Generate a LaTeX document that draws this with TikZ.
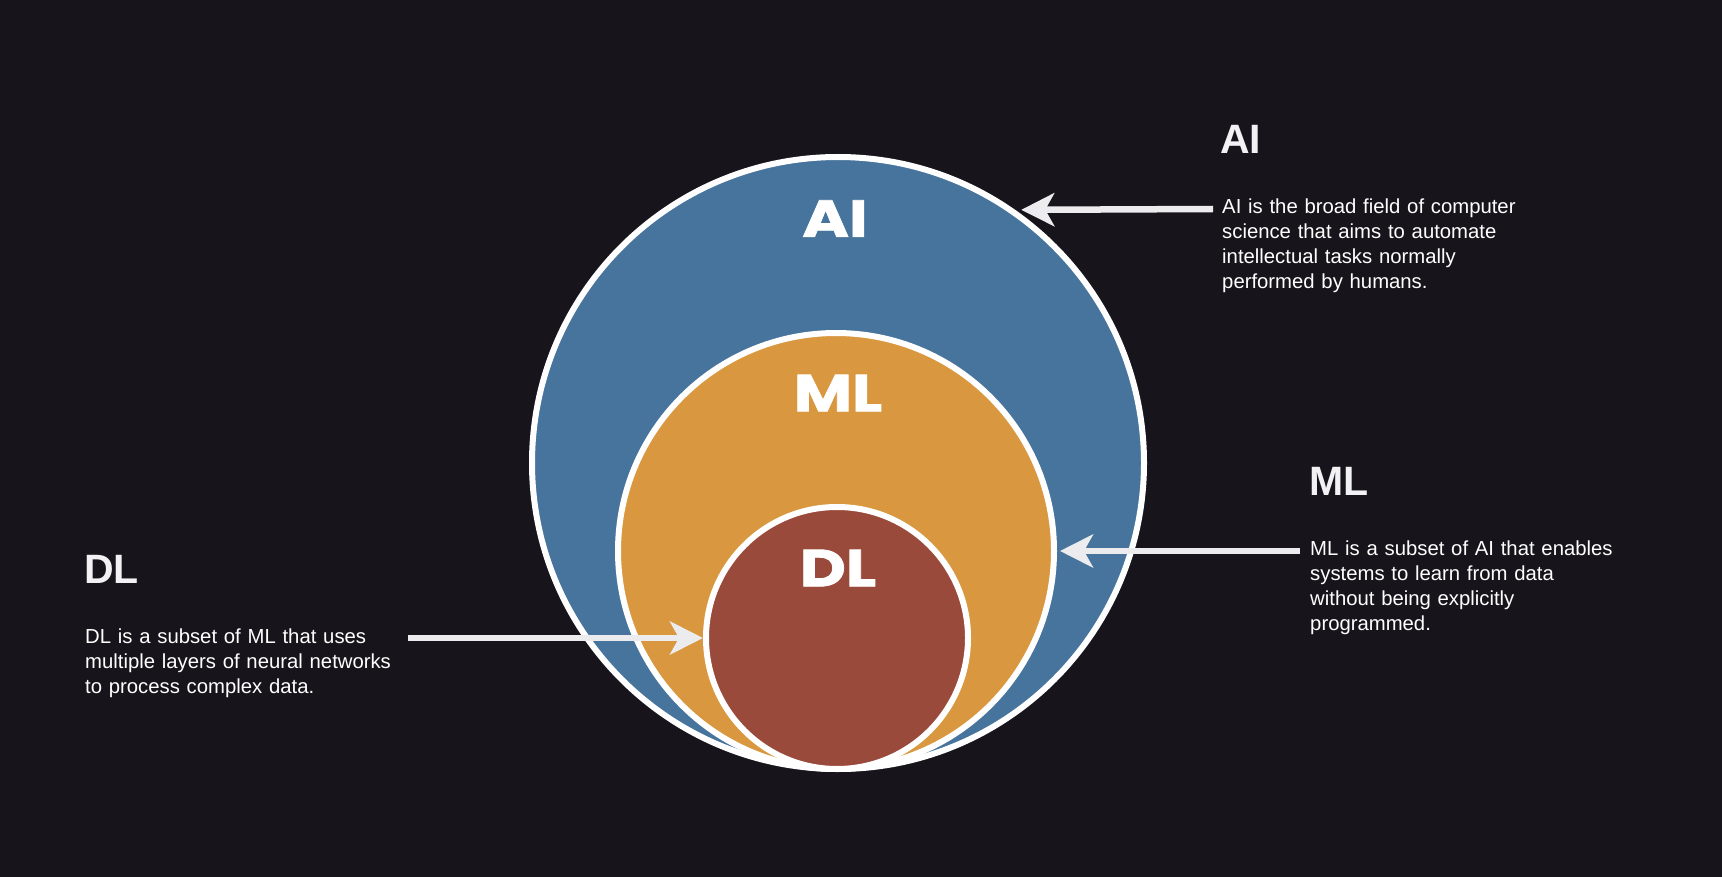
\documentclass[tikz,border=0pt]{standalone}
\usepackage{fontspec}
\setmainfont{Liberation Sans}
\newfontfamily\circfont{Poppins}[BoldFeatures={FakeBold=1.5,FakeStretch=1.22}]
\usetikzlibrary{arrows.meta}
\definecolor{bg}{RGB}{23,21,27}
\definecolor{aiblue}{RGB}{70,116,156}
\definecolor{mlorange}{RGB}{217,152,63}
\definecolor{dlred}{RGB}{154,74,58}
\definecolor{arrowgray}{RGB}{236,236,238}
\definecolor{headgray}{RGB}{242,242,244}
\begin{document}
\begin{tikzpicture}[x=1pt,y=-1pt,
  zone/.style={circle,draw=white,line width=6pt,inner sep=0pt},
  zonelabel/.style={font=\circfont\bfseries\fontsize{52}{52}\selectfont,text=white,inner sep=0pt},
  head/.style={font=\bfseries\fontsize{41}{41}\selectfont,text=headgray,anchor=base west,inner sep=0pt},
  body/.style={font=\fontsize{20.3}{25}\selectfont,text=white,anchor=base west,inner sep=0pt,align=left,text width=360pt},
  pointer/.style={draw=arrowgray,line width=6.5pt,-{Stealth[length=33pt,width=33pt,inset=9pt,color=arrowgray]}}]
\fill[bg] (0,0) rectangle (1722,877);
\useasboundingbox (0,0) rectangle (1722,877);

\node[zone,fill=aiblue,minimum size=612pt] (ai) at (838,463) {};
\node[zone,fill=mlorange,minimum size=436pt] (ml) at (836,551) {};
\node[zone,fill=dlred,minimum size=262pt] (dl) at (837,638) {};

\node[zonelabel] (ailabel) at (835,218.5) {AI};
\node[zonelabel] (mllabel) at (838,393) {ML};
\node[zonelabel] (dllabel) at (838,568) {DL};

\node[head] (aihead) at (1220,154) {AI};
\node[body] (aitext) at (1222,214) {AI is the broad field of computer\\science that aims to automate\\intellectual tasks normally\\performed by humans.};

\node[head] (mlhead) at (1309,495) {ML};
\node[body] (mltext) at (1310,555) {ML is a subset of AI that enables\\systems to learn from data\\without being explicitly\\programmed.};

\node[head] (dlhead) at (84,583) {DL};
\node[body] (dltext) at (85,643) {DL is a subset of ML that uses\\multiple layers of neural networks\\to process complex data.};

\coordinate (aifrom) at (1213,209);
\coordinate (mlfrom) at (1300,551);
\coordinate (dlfrom) at (408,638);
\draw[pointer,shorten >=6pt] (aifrom) -- (ai.55.3);
\draw[pointer,shorten >=3pt] (mlfrom) -- (ml.east);
\draw[pointer] (dlfrom) -- (dl.west);
\end{tikzpicture}
\end{document}
